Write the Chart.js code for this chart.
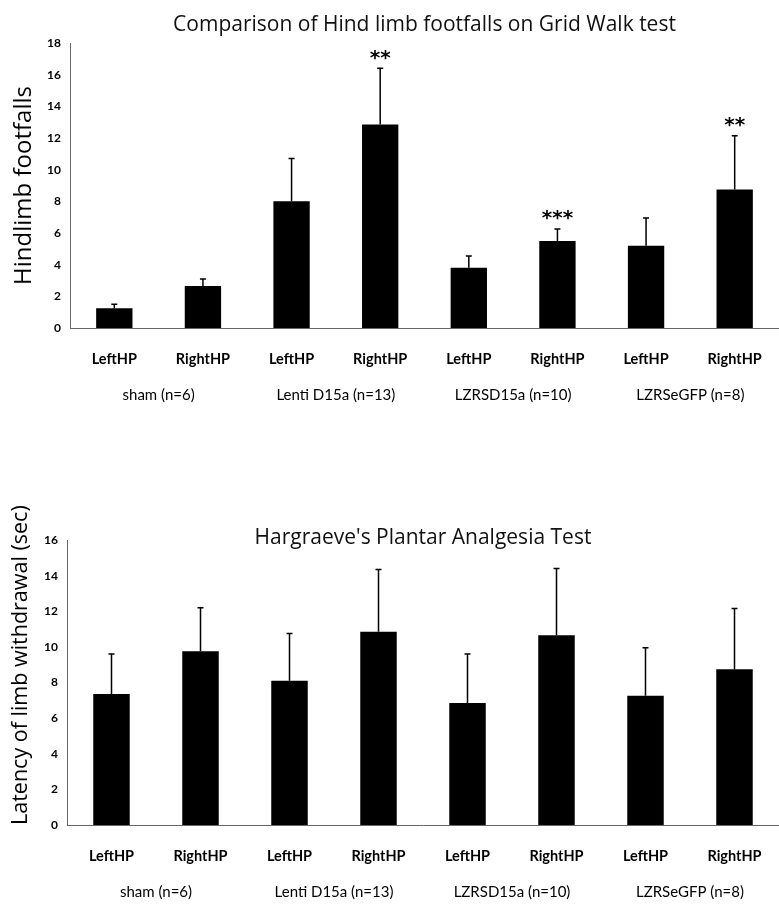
<!DOCTYPE html>
<html>
<head>
<meta charset="utf-8">
<script src="https://cdn.jsdelivr.net/npm/chart.js@4.4.1/dist/chart.umd.min.js"></script>
<style>
  body { margin: 0; background: #fff; }
  .box { position: absolute; left: 0; width: 779px; }
  #top { top: 0; height: 420px; }
  #bottom { top: 460px; height: 447px; }
</style>
</head>
<body>
<div class="box" id="top"><canvas id="gridWalkChart"></canvas></div>
<div class="box" id="bottom"><canvas id="plantarChart"></canvas></div>
<script>
// Categories
const sides = ['LeftHP', 'RightHP', 'LeftHP', 'RightHP', 'LeftHP', 'RightHP', 'LeftHP', 'RightHP'];
const groups = ['sham (n=6)', 'Lenti D15a (n=13)', 'LZRSD15a (n=10)', 'LZRSeGFP (n=8)'];

// Grid walk footfalls (mean, error)
const footfalls = [1.25, 2.65, 8.0, 12.85, 3.8, 5.5, 5.2, 8.75];
const footfallsErr = [0.25, 0.45, 2.7, 3.55, 0.75, 0.75, 1.75, 3.4];
const footfallsStars = ['', '', '', '**', '', '***', '', '**'];

// Hargreave's latency (sec)
const latency = [7.35, 9.75, 8.1, 10.85, 6.85, 10.65, 7.25, 8.75];
const latencyErr = [2.25, 2.45, 2.65, 3.5, 2.75, 3.75, 2.7, 3.4];

Chart.defaults.color = '#000';

// draws the upper whisker + cap, and significance stars
const errorBars = {
  id: 'errorBars',
  afterDatasetsDraw(chart, args, opts) {
    const ctx = chart.ctx;
    const y = chart.scales.y;
    const meta = chart.getDatasetMeta(0);
    ctx.save();
    ctx.strokeStyle = '#000';
    ctx.fillStyle = '#000';
    ctx.lineWidth = 1.5;
    ctx.font = 'bold 20px "DejaVu Sans"';
    ctx.textAlign = 'center';
    ctx.textBaseline = 'middle';
    meta.data.forEach((bar, i) => {
      const top = y.getPixelForValue(opts.values[i] + opts.errors[i]);
      ctx.beginPath();
      ctx.moveTo(bar.x, bar.y);
      ctx.lineTo(bar.x, top);
      ctx.moveTo(bar.x - 3, top);
      ctx.lineTo(bar.x + 3, top);
      ctx.stroke();
      if (opts.stars && opts.stars[i]) {
        ctx.fillText(opts.stars[i], bar.x, top - 10);
      }
    });
    ctx.restore();
  }
};

const chartTitle = {
  id: 'chartTitle',
  afterDraw(chart, args, opts) {
    const { ctx, chartArea } = chart;
    ctx.save();
    ctx.font = '21px "Open Sans"';
    ctx.fillStyle = '#111';
    ctx.textAlign = 'center';
    ctx.textBaseline = 'middle';
    ctx.fillText(opts.text, (chartArea.left + chartArea.right) / 2, chartArea.top + opts.offset);
    ctx.restore();
  }
};

function noSidePadding(scale) {
  scale.paddingLeft = 0;
  scale.paddingRight = 0;
}

function barChart(id, values, errors, stars, yMax, yTitle, yTitleAlign, yTitleSize, yTitlePad,
                  title, titleOffset, padding, axisWidth, groupHeight) {
  const ctx = document.getElementById(id).getContext('2d');
  return new Chart(ctx, {
    type: 'bar',
    data: {
      labels: sides,
      datasets: [
        {
          data: values,
          backgroundColor: '#000',
          borderWidth: 0,
          barPercentage: 0.41,
          categoryPercentage: 1,
        },
      ],
    },
    options: {
      responsive: true,
      maintainAspectRatio: false,
      animation: false,
      layout: { padding: padding },
      plugins: {
        legend: { display: false },
        tooltip: { enabled: false },
        errorBars: { values: values, errors: errors, stars: stars },
        chartTitle: { text: title, offset: titleOffset },
      },
      scales: {
        x: {
          grid: { display: false, drawTicks: false },
          border: { display: true, color: '#666', dash: [2, 1] },
          ticks: { padding: 23, font: { family: 'Lato', size: 14.5, weight: 'bold' } },
          afterFit: (scale) => { scale.height = 40; noSidePadding(scale); },
        },
        x2: {
          type: 'category',
          labels: groups,
          offset: true,
          position: 'bottom',
          grid: { display: false, drawTicks: false },
          border: { display: false },
          ticks: { padding: 18, font: { family: 'Lato', size: 15 } },
          afterFit: (scale) => { scale.height = groupHeight; noSidePadding(scale); },
        },
        y: {
          min: 0,
          max: yMax,
          grid: { display: false, drawTicks: false },
          border: { display: true, color: '#666', dash: [2, 1] },
          ticks: { stepSize: 2, padding: 9, font: { family: 'Lato', size: 12, weight: 'bold' } },
          title: {
            display: true,
            text: yTitle,
            align: yTitleAlign,
            padding: { top: yTitlePad, bottom: 0 },
            font: { family: 'Open Sans', size: yTitleSize },
          },
          afterFit: (scale) => { scale.width = axisWidth; },
        },
      },
    },
    plugins: [errorBars, chartTitle],
  });
}

barChart('gridWalkChart', footfalls, footfallsErr, footfallsStars, 18,
  'Hindlimb footfalls', 'center', 24, 9.5,
  'Comparison of Hind limb footfalls on Grid Walk test', -18,
  { top: 43, right: 0, bottom: 7, left: 0 }, 70, 45);

barChart('plantarChart', latency, latencyErr, null, 16,
  'Latency of limb withdrawal (sec)', 'start', 21.5, 8,
  "Hargraeve's Plantar Analgesia Test", -2,
  { top: 80, right: 0, bottom: 0, left: 0 }, 67, 42);
</script>
</body>
</html>
